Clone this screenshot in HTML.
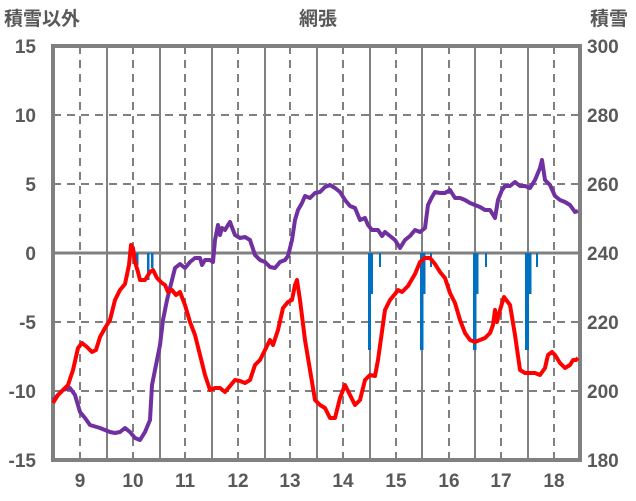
<!DOCTYPE html><html><head><meta charset="utf-8"><style>body{margin:0;background:#fff}svg{display:block}text{font-family:"Liberation Sans","Noto Sans CJK JP",sans-serif;fill:#595959;font-size:19px;font-weight:bold}</style></head><body>
<svg width="636" height="501" xmlns="http://www.w3.org/2000/svg">
<g stroke="#808080" stroke-width="2" stroke-dasharray="8,6">
<line x1="53" y1="115" x2="580" y2="115"/><line x1="53" y1="184" x2="580" y2="184"/><line x1="53" y1="322" x2="580" y2="322"/><line x1="53" y1="391" x2="580" y2="391"/>
<line x1="80" y1="46" x2="80" y2="460"/><line x1="133" y1="46" x2="133" y2="460"/><line x1="185" y1="46" x2="185" y2="460"/><line x1="238" y1="46" x2="238" y2="460"/><line x1="290" y1="46" x2="290" y2="460"/><line x1="343" y1="46" x2="343" y2="460"/><line x1="396" y1="46" x2="396" y2="460"/><line x1="449" y1="46" x2="449" y2="460"/><line x1="501" y1="46" x2="501" y2="460"/><line x1="554" y1="46" x2="554" y2="460"/>
</g>
<g stroke="#808080" stroke-width="2">
<line x1="107" y1="46" x2="107" y2="460"/><line x1="160" y1="46" x2="160" y2="460"/><line x1="212" y1="46" x2="212" y2="460"/><line x1="265" y1="46" x2="265" y2="460"/><line x1="317" y1="46" x2="317" y2="460"/><line x1="370" y1="46" x2="370" y2="460"/><line x1="422" y1="46" x2="422" y2="460"/><line x1="475" y1="46" x2="475" y2="460"/><line x1="528" y1="46" x2="528" y2="460"/>
<line x1="53" y1="253" x2="580" y2="253" stroke-width="3"/>
</g>
<rect x="53" y="46" width="527" height="414" fill="none" stroke="#808080" stroke-width="4"/>
<g fill="#0070C0">
<rect x="136" y="253" width="2.5" height="12"/><rect x="147" y="253" width="2.5" height="27"/><rect x="151" y="253" width="2.5" height="15"/>
<rect x="368" y="253" width="3" height="97"/><rect x="371" y="253" width="2" height="41"/><rect x="379" y="253" width="2" height="14"/>
<rect x="420" y="253" width="3.5" height="97"/><rect x="423.5" y="253" width="2" height="41"/><rect x="430" y="253" width="2" height="14"/>
<rect x="473" y="253" width="3.5" height="97"/><rect x="476.5" y="253" width="2" height="41"/><rect x="485" y="253" width="2" height="14"/>
<rect x="525" y="253" width="4" height="97"/><rect x="529" y="253" width="2.5" height="41"/><rect x="536" y="253" width="2" height="14"/>
</g>
<polyline fill="none" stroke="#7030A0" stroke-width="4" stroke-linejoin="round" points="53,400 58,395 63,390 70,388 75,395 80,412 85,418 90,425 100,428 110,432 115,433 120,432 125,428 130,432 135,438 140,440 145,432 150,420 152,385 155,370 160,345 163,320 167,300 172,280 175,268 180,264 185,268 190,262 195,258 200,258 202,265 205,260 210,260 213,262 215,240 218,225 220,235 222,228 225,230 228,225 230,222 233,230 235,235 240,238 245,237 250,240 255,255 260,260 265,262 270,267 275,268 280,262 285,260 288,256 292,240 295,220 298,210 302,203 305,196 310,198 315,193 320,192 325,187 330,185 335,188 340,192 345,200 350,206 355,208 360,220 365,218 368,225 372,230 378,230 382,236 385,232 390,236 395,240 400,248 405,240 410,236 415,230 420,232 425,228 428,205 432,197 435,192 440,193 445,193 450,190 455,198 460,198 465,200 470,203 475,205 480,207 485,210 490,210 495,218 498,200 502,190 505,186 510,186 515,182 520,186 525,186 530,188 535,180 540,168 542,160 545,180 550,185 555,196 560,200 565,202 570,205 575,212 578,211"/>
<polyline fill="none" stroke="#FF0000" stroke-width="4" stroke-linejoin="round" points="53,403 58,395 63,390 68,385 73,370 78,348 82,343 87,347 92,352 96,350 100,337 105,328 110,320 115,300 120,290 125,284 129,265 131,245 133,248 135,262 138,272 140,280 145,280 150,272 153,270 157,278 162,283 165,285 168,292 172,290 176,295 180,292 185,305 190,322 195,335 200,355 205,375 210,390 215,388 220,388 225,392 230,386 235,380 240,381 245,383 250,380 255,365 260,360 265,350 270,340 273,345 278,330 283,308 288,302 292,300 295,285 297,280 300,300 305,340 310,370 315,400 320,405 325,408 330,418 335,418 340,398 345,385 350,395 355,405 360,400 365,380 370,375 375,376 378,360 385,310 390,300 395,294 398,290 402,292 408,286 415,274 420,262 425,258 430,258 435,264 440,272 445,278 450,293 455,303 460,320 465,333 470,340 475,342 480,340 485,338 490,333 493,325 495,310 497,322 500,310 504,297 510,305 515,335 520,370 525,373 530,373 535,373 540,375 545,368 548,355 552,352 555,355 560,363 565,368 570,365 573,360 576,360 578,358"/>
<g text-anchor="end"><text x="36" y="53">15</text><text x="36" y="122">10</text><text x="36" y="191">5</text><text x="36" y="260">0</text><text x="36" y="329">-5</text><text x="36" y="398">-10</text><text x="36" y="467">-15</text></g>
<g text-anchor="start"><text x="587" y="53">300</text><text x="587" y="122">280</text><text x="587" y="191">260</text><text x="587" y="260">240</text><text x="587" y="329">220</text><text x="587" y="398">200</text><text x="587" y="467">180</text></g>
<g text-anchor="middle"><text x="80" y="487">9</text><text x="133" y="487">10</text><text x="185" y="487">11</text><text x="238" y="487">12</text><text x="290" y="487">13</text><text x="343" y="487">14</text><text x="396" y="487">15</text><text x="449" y="487">16</text><text x="501" y="487">17</text><text x="554" y="487">18</text>
<text x="318" y="25">網張</text></g>
<text x="4" y="25">積雪以外</text><text x="590" y="25">積雪</text>
</svg></body></html>
